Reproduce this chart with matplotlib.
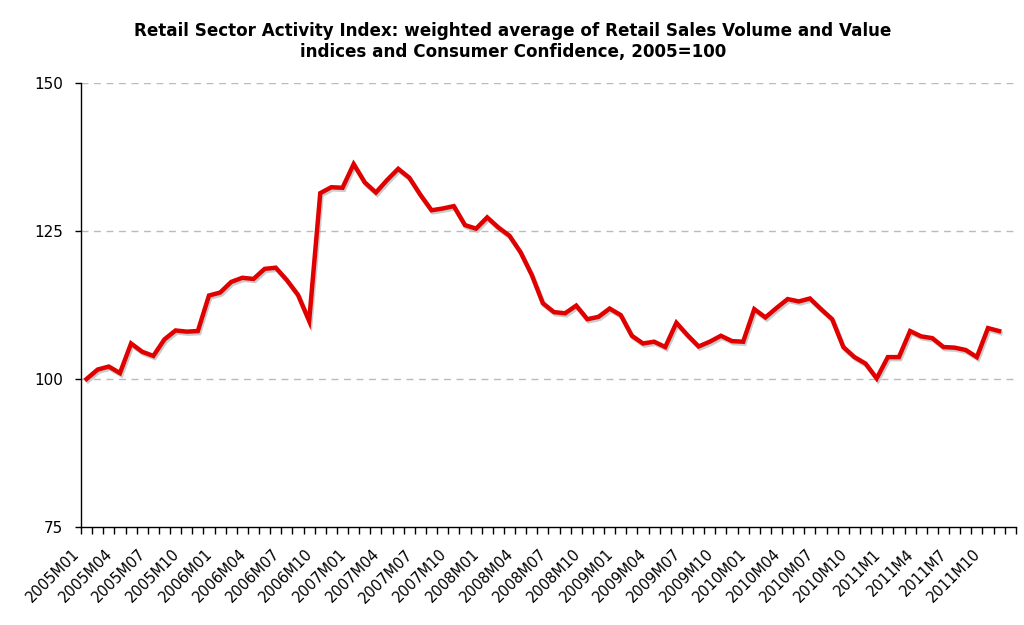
import matplotlib
matplotlib.use("Agg")
import matplotlib.pyplot as plt
import matplotlib.patheffects as pe
from matplotlib.transforms import ScaledTranslation
import numpy as np

plt.rcParams["font.family"] = ["DejaVu Sans"]

# Monthly categories, 2005M01 .. 2011M12 (last month has no value yet)
months = [f"{y}M{m:02d}" for y in range(2005, 2012) for m in range(1, 13)]

index_values = [
    100.0, 101.6, 102.1, 101.0, 106.0, 104.6, 103.9, 106.7, 108.2, 108.0,
    108.1, 114.1, 114.6, 116.4, 117.1, 116.9, 118.6, 118.8, 116.7, 114.2,
    109.8, 131.4, 132.4, 132.3, 136.3, 133.2, 131.5, 133.6, 135.5, 134.0,
    131.1, 128.5, 128.8, 129.2, 126.0, 125.4, 127.3, 125.6, 124.2, 121.4,
    117.6, 112.8, 111.3, 111.1, 112.4, 110.1, 110.5, 111.9, 110.8, 107.3,
    106.0, 106.3, 105.4, 109.5, 107.4, 105.5, 106.3, 107.3, 106.4, 106.3,
    111.8, 110.4, 112.0, 113.5, 113.1, 113.6, 111.8, 110.1, 105.4, 103.7,
    102.6, 100.1, 103.7, 103.7, 108.1, 107.2, 106.9, 105.4, 105.3, 104.9,
    103.7, 108.6, 108.1,
]

tick_labels = ["2005M01", "2005M04", "2005M07", "2005M10", "2006M01", "2006M04",
               "2006M07", "2006M10", "2007M01", "2007M04", "2007M07", "2007M10",
               "2008M01", "2008M04", "2008M07", "2008M10", "2009M01", "2009M04",
               "2009M07", "2009M10", "2010M01", "2010M04", "2010M07", "2010M10",
               "2011M1", "2011M4", "2011M7", "2011M10"]

title = ("Retail Sector Activity Index: weighted average of Retail Sales Volume and Value\n"
         "indices and Consumer Confidence, 2005=100")

fig = plt.figure(figsize=(10.24, 6.25), dpi=100)
ax = fig.add_axes([0.0791, 0.1568, 0.9129, 0.7104])

x = np.arange(len(index_values))
ax.plot(x, index_values, color="#e00000", linewidth=3.2, solid_joinstyle="miter",
        path_effects=[pe.SimpleLineShadow(offset=(1, -1.5), shadow_color="#999999", alpha=0.5),
                      pe.Normal()], zorder=3)

ax.set_xlim(-0.5, len(months) - 0.5)
ax.set_ylim(75, 150)
ax.set_yticks([75, 100, 125, 150])
ax.tick_params(axis="y", labelsize=11, length=4, width=1, pad=9)

# category boundaries as ticks, labels every third month
ax.set_xticks(np.arange(len(months) + 1) - 0.5)
ax.set_xticklabels([])
ax.set_xticks(np.arange(0, len(months) - 1, 3), minor=True)
ax.set_xticklabels(tick_labels, minor=True, rotation=45, ha="right",
                   rotation_mode="anchor", fontsize=10.5)
ax.tick_params(axis="x", which="major", length=5, width=1, direction="out")
ax.tick_params(axis="x", which="minor", length=0, pad=14)
shift = ScaledTranslation(-0.15, 0, fig.dpi_scale_trans)
for lab in ax.get_xticklabels(minor=True):
    lab.set_transform(lab.get_transform() + shift)

for v in [100, 125, 150]:
    ax.axhline(v, color="#bbbbbb", linestyle=(0, (5, 4)), linewidth=1, zorder=1)

for s in ["top", "right"]:
    ax.spines[s].set_visible(False)
ax.spines["left"].set_linewidth(1)
ax.spines["bottom"].set_linewidth(1)

fig.text(0.501, 0.964, title, ha="center", va="top", fontsize=12.1,
         fontweight="bold", linespacing=1.2)

fig.savefig("out.png", dpi=100)
